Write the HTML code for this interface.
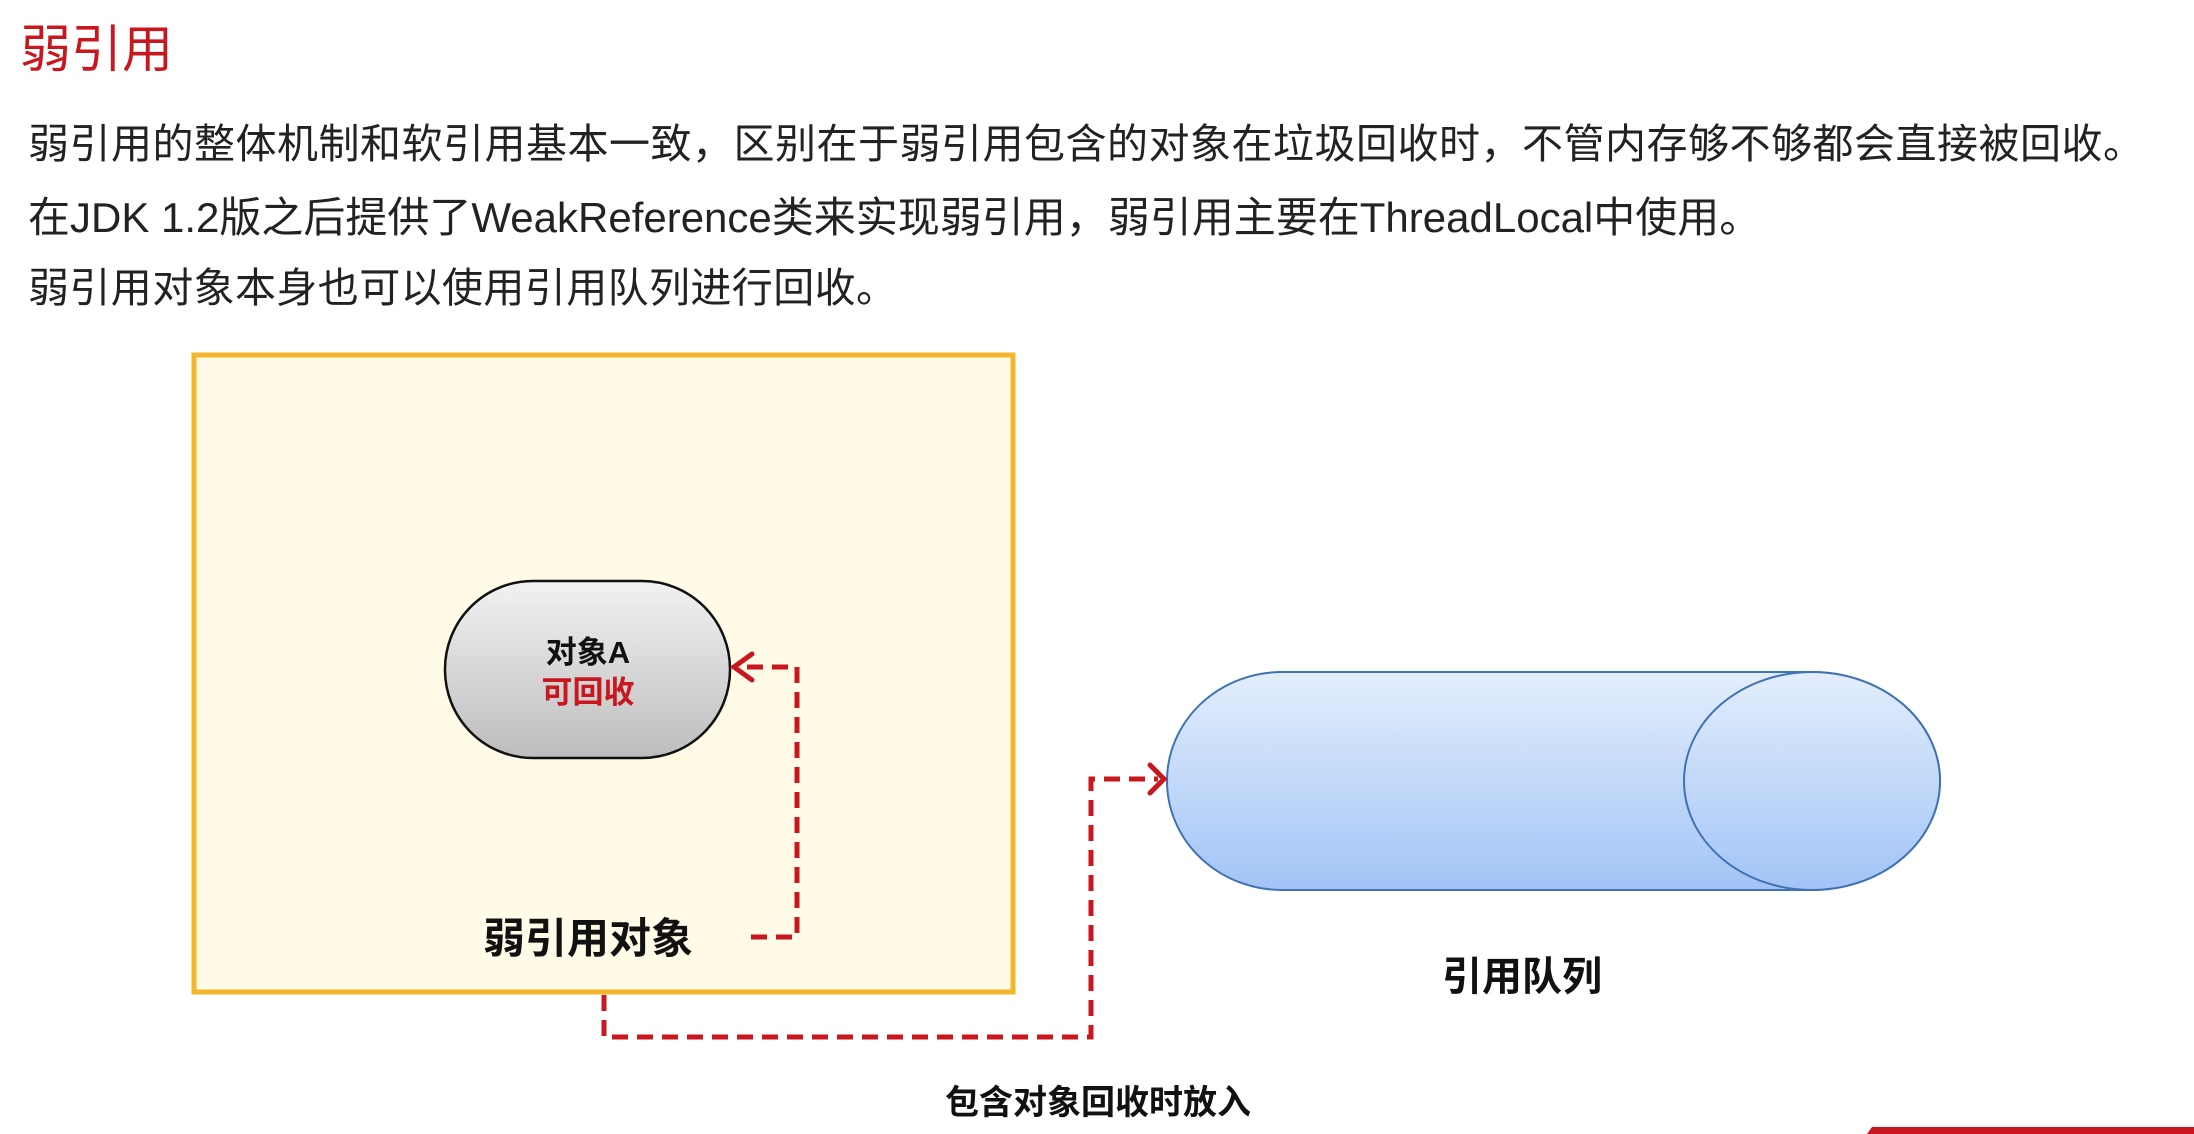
<!DOCTYPE html>
<html><head><meta charset="utf-8"><style>
html,body{margin:0;padding:0;background:#fff;}
body{width:2194px;height:1134px;position:relative;overflow:hidden;font-family:"Liberation Sans","Noto Sans CJK SC",sans-serif;}
.t{position:absolute;white-space:nowrap;}
</style></head><body>
<div class="t" style="left:20px;top:8px;font-size:51px;color:#c8171e;">弱引用</div>
<div class="t" style="left:28px;top:110px;font-size:41px;color:#222;letter-spacing:0.5px;">弱引用的整体机制和软引用基本一致，区别在于弱引用包含的对象在垃圾回收时，不管内存够不够都会直接被回收。</div>
<div class="t" style="left:28px;top:184px;font-size:42px;color:#222;">在JDK 1.2版之后提供了WeakReference类来实现弱引用，弱引用主要在ThreadLocal中使用。</div>
<div class="t" style="left:28px;top:254px;font-size:41px;color:#222;letter-spacing:0.4px;">弱引用对象本身也可以使用引用队列进行回收。</div>
<svg width="2194" height="1134" style="position:absolute;left:0;top:0" xmlns="http://www.w3.org/2000/svg">
<defs>
<linearGradient id="g" x1="0" y1="0" x2="0" y2="1"><stop offset="0" stop-color="#f2f2f2"/><stop offset="1" stop-color="#bdbdbd"/></linearGradient>
<linearGradient id="b" x1="0" y1="0" x2="0" y2="1"><stop offset="0" stop-color="#e3eefc"/><stop offset="1" stop-color="#a2c4f6"/></linearGradient>
</defs>
<rect x="194" y="355" width="819" height="637" fill="#fffbe7" stroke="#f6b62c" stroke-width="5"/>
<rect x="445" y="581" width="285" height="177" rx="88" ry="88" fill="url(#g)" stroke="#111" stroke-width="2.5"/>
<text x="588" y="663" font-size="31" font-weight="bold" text-anchor="middle" fill="#111">对象A</text>
<text x="588" y="703" font-size="31" font-weight="bold" text-anchor="middle" fill="#c8171e">可回收</text>
<text x="588" y="953" font-size="42" font-weight="bold" text-anchor="middle" fill="#111">弱引用对象</text>
<path d="M1282 672 L1812 672 A128 109 0 0 1 1812 890 L1282 890 A115 109 0 0 1 1282 672 Z" fill="url(#b)" stroke="#3f72b5" stroke-width="2"/>
<ellipse cx="1812" cy="781" rx="128" ry="109" fill="url(#b)" stroke="#3f72b5" stroke-width="2"/>
<text x="1522" y="990" font-size="40" font-weight="bold" text-anchor="middle" fill="#111">引用队列</text>
<text x="1098" y="1114" font-size="34" font-weight="bold" text-anchor="middle" fill="#111">包含对象回收时放入</text>
<g fill="none" stroke="#c8171e" stroke-width="5" stroke-dasharray="16,9">
<path d="M751 937 L797 937 L797 667 L738 667"/>
<path d="M604 995 L604 1037 L1091 1037 L1091 779 L1158 779"/>
</g>
<g fill="none" stroke="#c8171e" stroke-width="5" stroke-linecap="round">
<path d="M752 654 L734 667 L752 680"/>
<path d="M1150 765 L1164 779 L1150 793"/>
</g>
<polygon points="1867,1134 1872,1127 2194,1127 2194,1134" fill="#c8171e"/>
</svg>
</body></html>
